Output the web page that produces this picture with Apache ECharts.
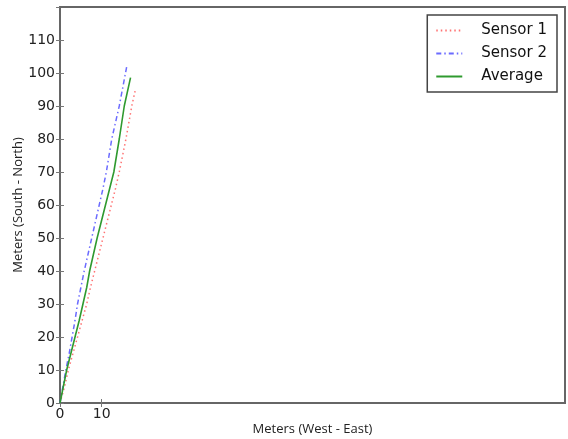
<!DOCTYPE html>
<html>
<head>
<meta charset="utf-8">
<script src="https://cdn.jsdelivr.net/npm/echarts@6/dist/echarts.min.js"></script>
<style>
  html, body { margin: 0; padding: 0; background: #fff; }
  #chart { width: 568px; height: 439px; }
</style>
</head>
<body>
<div id="chart"></div>
<script>
// [x, y] positions, in meters
const sensor1 = [[0, 0], [1.1, 5], [2.0, 10], [3.1, 15], [4.2, 20], [5.3, 25], [6.4, 30], [7.3, 35], [8.3, 40],
    [9.3, 45], [10.3, 50], [11.3, 55], [12.3, 60], [13.3, 65], [14.2, 70], [15.8, 80], [17.2, 90], [18.0, 94.6]];
const sensor2 = [[0, 0], [0.7, 5], [1.4, 10], [2.2, 15], [2.9, 20], [3.6, 25], [4.2, 30], [5.0, 35], [5.8, 40],
    [6.7, 45], [7.6, 50], [8.5, 55], [9.4, 60], [10.3, 65], [11.1, 70], [12.4, 80], [14.2, 90], [16.1, 102.7]];
const average = [[0, 0], [0.8, 5], [1.6, 10], [2.6, 15], [3.6, 20], [4.6, 25], [5.5, 30], [6.4, 35], [7.1, 40],
    [8.0, 45], [8.9, 50], [9.9, 55], [10.9, 60], [11.9, 65], [12.9, 70], [14.2, 80], [15.4, 90], [16.9, 98.6]];
const seriesNames = ['Sensor 1', 'Sensor 2', 'Average'];
const xTicks = [0, 10];
const xMax = 121;
const yMax = 120;

const chart = echarts.init(document.getElementById('chart'));
const axisColor = '#666';
const labelFont = 'DejaVu Sans';

const yAxisCommon = {
    type: 'value',
    min: 0,
    max: yMax,
    interval: 10,
    splitLine: {show: false},
    axisLine: {show: true, lineStyle: {color: axisColor, width: 2}},
    axisTick: {show: true, inside: true, length: 4, lineStyle: {color: '#777'}}
};

chart.setOption({
    animation: false,
    grid: {left: 60, right: 3, top: 7, bottom: 36, show: true, borderColor: axisColor, borderWidth: 2, outerBoundsMode: 'none'},
    legend: {
        right: 11,
        top: 15,
        orient: 'vertical',
        data: seriesNames,
        itemWidth: 26,
        itemHeight: 10,
        itemGap: 8,
        padding: [8, 10, 8, 8],
        borderColor: '#444',
        borderWidth: 1.5,
        borderRadius: 0,
        itemStyle: {opacity: 0},
        textStyle: {fontFamily: labelFont, fontSize: 15, color: '#111', padding: [0, 0, 0, 14]}
    },
    xAxis: [{
        type: 'value',
        min: 0,
        max: xMax,
        name: 'Meters (West - East)',
        nameLocation: 'middle',
        nameGap: 20,
        nameMoveOverlap: false,
        nameTextStyle: {fontFamily: 'Open Sans', fontSize: 13, color: '#222'},
        splitLine: {show: false},
        axisLine: {show: true, lineStyle: {color: axisColor, width: 2}},
        axisTick: {show: true, inside: true, length: 4, customValues: xTicks, lineStyle: {color: '#777'}},
        axisLabel: {customValues: xTicks, fontFamily: labelFont, fontSize: 14, color: '#222', margin: 4}
    }, {
        type: 'value',
        position: 'top',
        min: 0,
        max: xMax,
        splitLine: {show: false},
        axisLine: {show: false},
        axisTick: {show: true, inside: true, length: 4, customValues: xTicks, lineStyle: {color: '#777'}},
        axisLabel: {show: false}
    }],
    yAxis: [Object.assign({}, yAxisCommon, {
        name: 'Meters (South - North)',
        nameLocation: 'middle',
        nameGap: 35,
        nameMoveOverlap: false,
        nameTextStyle: {fontFamily: 'Open Sans', fontSize: 13, color: '#222'},
        axisLabel: {fontFamily: labelFont, fontSize: 14, color: '#222', margin: 5, showMaxLabel: false}
    }), Object.assign({}, yAxisCommon, {
        position: 'right',
        axisLine: {show: false},
        axisLabel: {show: false}
    })],
    series: [{
        name: seriesNames[0],
        type: 'line',
        data: sensor1,
        symbol: 'none',
        color: '#ff4444',
        lineStyle: {type: [1.5, 3], width: 1.5, opacity: 0.75}
    }, {
        name: seriesNames[1],
        type: 'line',
        data: sensor2,
        symbol: 'none',
        color: '#3939ff',
        lineStyle: {type: [5, 3, 1.5, 3], width: 1.5, opacity: 0.75}
    }, {
        name: seriesNames[2],
        type: 'line',
        data: average,
        symbol: 'none',
        color: '#2f9a2f',
        lineStyle: {type: 'solid', width: 1.6}
    }]
});
</script>
</body>
</html>
